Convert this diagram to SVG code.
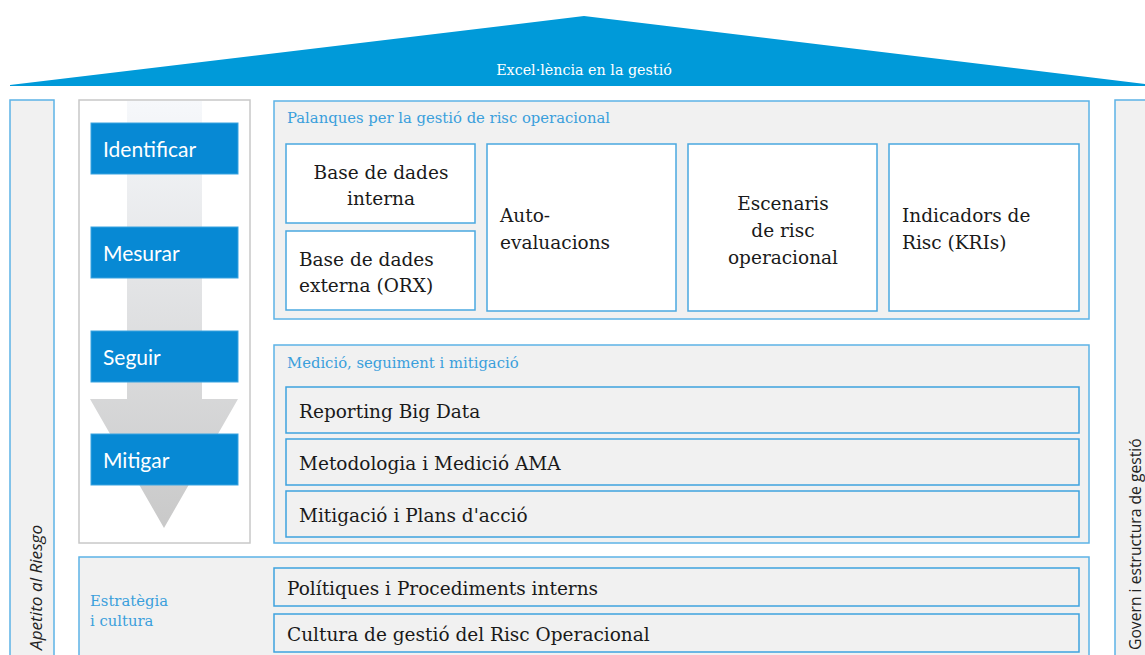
<svg xmlns="http://www.w3.org/2000/svg" width="1145" height="655" viewBox="0 0 1145 655">
<defs>
<linearGradient id="arrowGrad" x1="0" y1="0" x2="0" y2="1">
<stop offset="0" stop-color="#f6f8fb"/>
<stop offset="1" stop-color="#c9c9c9"/>
</linearGradient>
<style>
.panel{fill:#f1f1f1;stroke:#5cb3e6;stroke-width:1.5}
.card{fill:#ffffff;stroke:#4aa8e0;stroke-width:1.5}
.row{fill:#f1f1f1;stroke:#3ea2de;stroke-width:1.5}
.step{fill:#0789d4;stroke:#3aa3e0;stroke-width:1}
.steptxt{font-family:Lato,"Open Sans",sans-serif;font-size:21px;fill:#ffffff}
.ttl{font-family:"DejaVu Serif",serif;font-size:14.8px;fill:#3a9fdc}
.txt{font-family:"DejaVu Serif",serif;font-size:18.5px;fill:#1a1a1a}
.side{font-family:"Open Sans",sans-serif;fill:#222222}
</style>
</defs>
<g id="roof">
<polygon points="10,85 584,16 1145,84 1145,86 10,86" fill="#009ad9"/>
<text x="584" y="75" text-anchor="middle" font-family="DejaVu Serif, serif" font-size="14.3" fill="#ffffff">Excel·lència en la gestió</text>
</g>
<g id="apetito">
<rect class="panel" x="10" y="100" width="44" height="570"/>
<text class="side" transform="translate(42,650) rotate(-90)" font-size="17.2" font-style="italic">Apetito al Riesgo</text>
</g>
<g id="govern">
<rect class="panel" x="1115" y="100" width="40" height="570"/>
<text class="side" transform="translate(1141,650) rotate(-90)" font-size="15.7">Govern i estructura de gestió</text>
</g>
<g id="process">
<rect x="79" y="100" width="171" height="443" fill="#ffffff" stroke="#c8c8c8" stroke-width="1.5"/>
<polygon points="127,101 202,101 202,399 238,399 164,528 90,399 127,399" fill="url(#arrowGrad)"/>
</g>
<g id="identificar"><rect class="step" x="91" y="123" width="147" height="51"/><text class="steptxt" x="103" y="157">Identificar</text></g>
<g id="mesurar"><rect class="step" x="91" y="227" width="147" height="51"/><text class="steptxt" x="103" y="261">Mesurar</text></g>
<g id="seguir"><rect class="step" x="91" y="331" width="147" height="51"/><text class="steptxt" x="103" y="365">Seguir</text></g>
<g id="mitigar"><rect class="step" x="91" y="434" width="147" height="51"/><text class="steptxt" x="103" y="468">Mitigar</text></g>
<g id="palanques">
<rect class="panel" x="274" y="101" width="815" height="218"/>
<text class="ttl" x="287" y="123">Palanques per la gestió de risc operacional</text>
</g>
<g id="bd-interna"><rect class="card" x="286" y="144" width="189" height="79"/><text class="txt" x="381" y="179" text-anchor="middle"><tspan x="381">Base de dades</tspan><tspan x="381" dy="26">interna</tspan></text></g>
<g id="bd-externa"><rect class="card" x="286" y="231" width="189" height="79"/><text class="txt" x="299" y="266"><tspan x="299">Base de dades</tspan><tspan x="299" dy="26">externa (ORX)</tspan></text></g>
<g id="autoeval"><rect class="card" x="487" y="144" width="189" height="167"/><text class="txt" x="500" y="222"><tspan x="500">Auto-</tspan><tspan x="500" dy="27">evaluacions</tspan></text></g>
<g id="escenaris"><rect class="card" x="688" y="144" width="189" height="167"/><text class="txt" x="783" y="210" text-anchor="middle"><tspan x="783">Escenaris</tspan><tspan x="783" dy="27">de risc</tspan><tspan x="783" dy="27">operacional</tspan></text></g>
<g id="kris"><rect class="card" x="889" y="144" width="190" height="167"/><text class="txt" x="902" y="222"><tspan x="902">Indicadors de</tspan><tspan x="902" dy="27">Risc (KRIs)</tspan></text></g>
<g id="medicio">
<rect class="panel" x="274" y="345" width="815" height="198"/>
<text class="ttl" x="287" y="368">Medició, seguiment i mitigació</text>
</g>
<g id="reporting"><rect class="row" x="286" y="387" width="793" height="46"/><text class="txt" x="299" y="418">Reporting Big Data</text></g>
<g id="metodologia"><rect class="row" x="286" y="439" width="793" height="46"/><text class="txt" x="299" y="470">Metodologia i Medició AMA</text></g>
<g id="mitigacio"><rect class="row" x="286" y="491" width="793" height="46"/><text class="txt" x="299" y="522">Mitigació i Plans d'acció</text></g>
<g id="estrategia">
<rect class="panel" x="79" y="557" width="1010" height="110"/>
<text class="ttl" x="90" y="606"><tspan x="90">Estratègia</tspan><tspan x="90" dy="20">i cultura</tspan></text>
</g>
<g id="politiques"><rect class="row" x="274" y="568" width="805" height="38"/><text class="txt" x="287" y="595">Polítiques i Procediments interns</text></g>
<g id="cultura"><rect class="row" x="274" y="614" width="805" height="38"/><text class="txt" x="287" y="641">Cultura de gestió del Risc Operacional</text></g>
<g id="connectors"></g>
</svg>
